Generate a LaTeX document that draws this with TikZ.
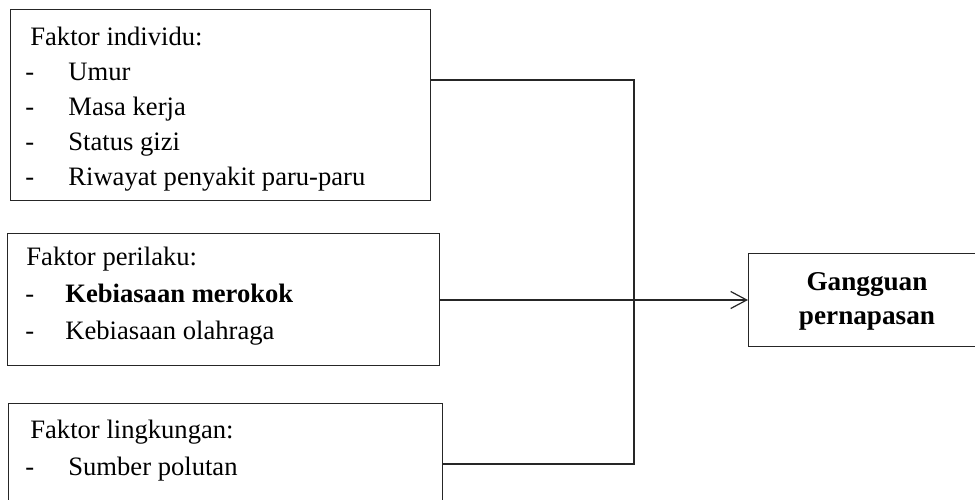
\documentclass[tikz,border=0pt]{standalone}
\usepackage{fontspec}
\setmainfont{Liberation Serif}
\usetikzlibrary{arrows.meta}
\begin{document}
\begin{tikzpicture}[x=0.5pt,y=-0.5pt,
  box/.style={draw=black!85, line width=0.6pt, rectangle, inner sep=0pt, anchor=north west},
  txt/.style={anchor=base west, inner sep=0pt, font=\fontsize{13.3pt}{15pt}\selectfont},
  ctxt/.style={anchor=base, inner sep=0pt, font=\fontsize{13.6pt}{15pt}\selectfont\bfseries},
  conn/.style={draw=black!85, line width=0.6pt},
  arr/.style={conn, -{Straight Barb[length=8pt,width=8.5pt,line width=0.6pt]}}
]
\useasboundingbox (0,0) rectangle (975,499);
\clip (0,0) rectangle (975,499);
% boxes
\node[box, minimum width=210pt, minimum height=95.5pt] (b1) at (10,9) {};
\node[box, minimum width=216pt, minimum height=66pt] (b2) at (7,233) {};
\node[box, minimum width=217pt, minimum height=60pt] (b3) at (8,403) {};
\node[box, minimum width=122pt, minimum height=46.5pt] (gp) at (748,253) {};
% box 1 text
\node[txt] (t1h) at (30,45) {Faktor individu:};
\node[txt] (d1a) at (25,80) {-};
\node[txt] (t1a) at (68,80) {Umur};
\node[txt] (d1b) at (25,115) {-};
\node[txt] (t1b) at (68,115) {Masa kerja};
\node[txt] (d1c) at (25,150) {-};
\node[txt] (t1c) at (68,150) {Status gizi};
\node[txt] (d1d) at (25,185) {-};
\node[txt] (t1d) at (68,185) {Riwayat penyakit paru-paru};
% box 2 text
\node[txt] (t2h) at (26,265) {Faktor perilaku:};
\node[txt] (d2a) at (25,302) {-};
\node[txt, font=\fontsize{13.3pt}{15pt}\selectfont\bfseries] (t2a) at (65,302) {Kebiasaan merokok};
\node[txt] (d2b) at (25,339) {-};
\node[txt] (t2b) at (65,339) {Kebiasaan olahraga};
% box 3 text
\node[txt] (t3h) at (30,438) {Faktor lingkungan:};
\node[txt] (d3a) at (25,475) {-};
\node[txt] (t3a) at (68,475) {Sumber polutan};
% right box text
\node[ctxt] (g1) at (867,290) {Gangguan};
\node[ctxt] (g2) at (867,324) {pernapasan};
% connectors
\coordinate (j1) at (634,80);
\coordinate (j2) at (634,300);
\coordinate (j3) at (634,464);
\draw[conn] (j1 -| b1.east) -- (j1) -- (j3) -- (j3 -| b3.east);
\draw[conn] (j2 -| b2.east) -- (j2);
\draw[arr] (j2) -- (j2 -| gp.west);
\end{tikzpicture}
\end{document}
